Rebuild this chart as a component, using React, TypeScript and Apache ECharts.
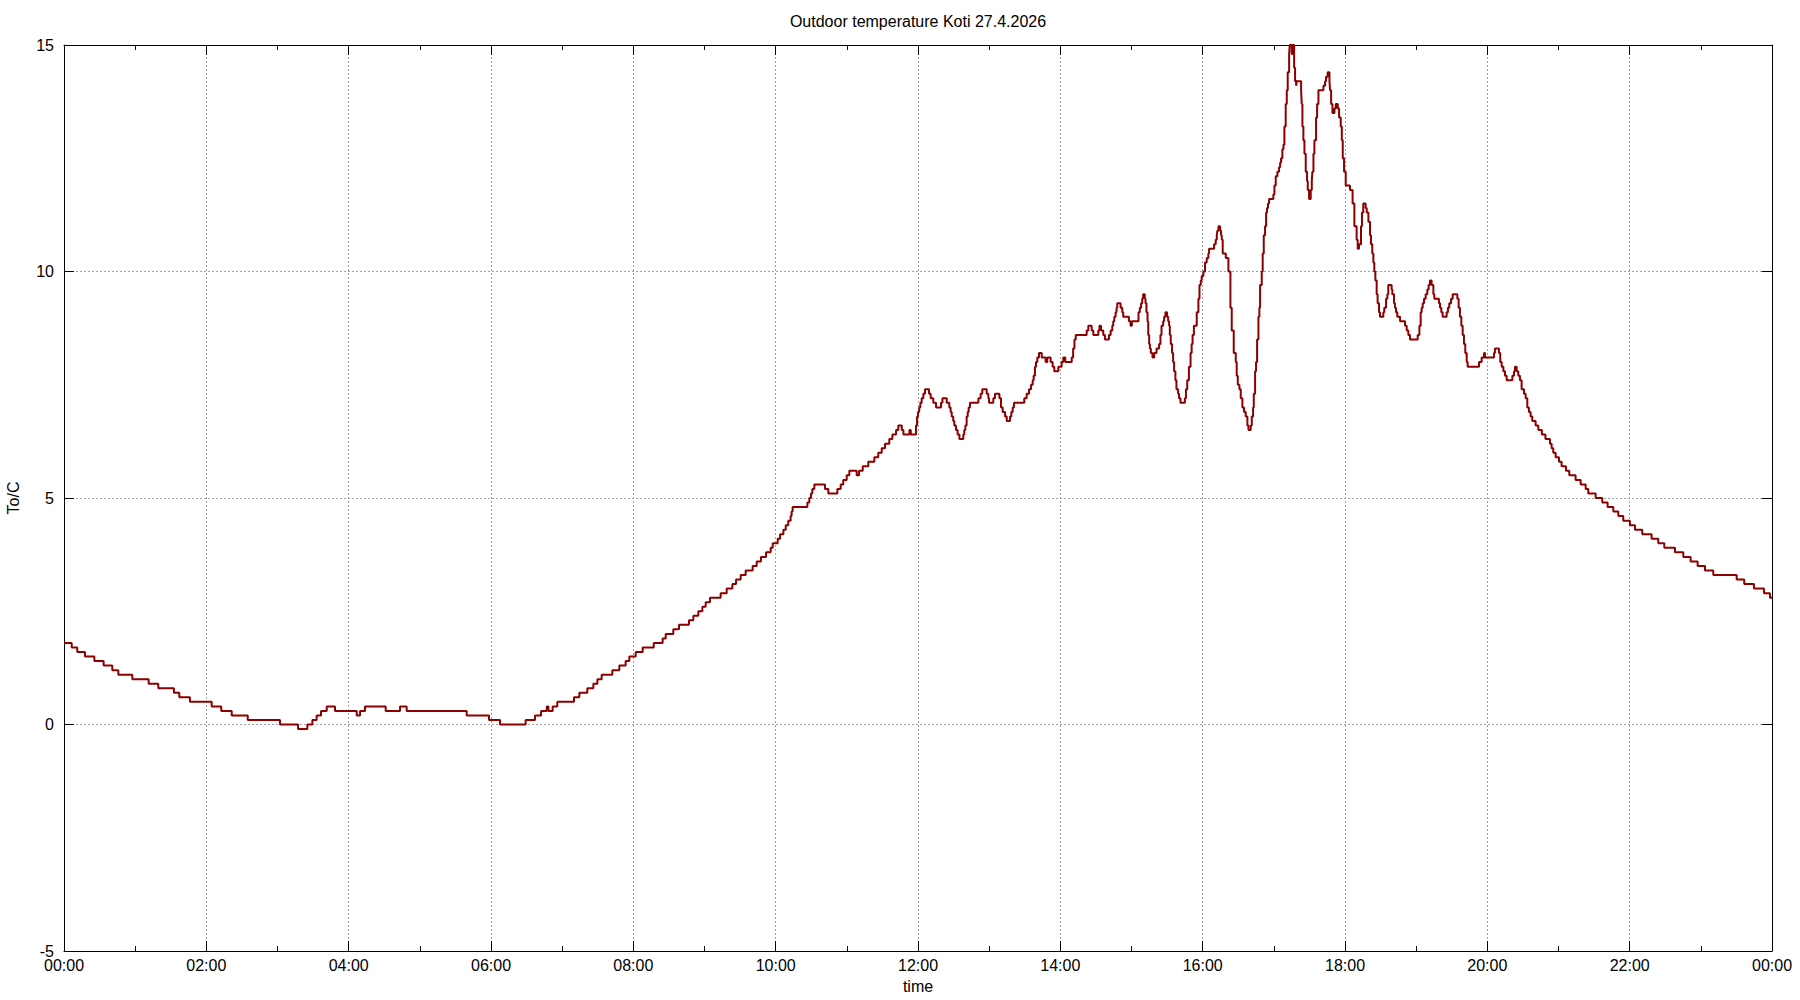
import React, { useEffect, useRef } from "react";
import * as echarts from "echarts";

const TITLE = "Outdoor temperature Koti 27.4.2026";
const X_NAME = "time";
const Y_NAME = "To/C";
const xTickLabels = ["00:00", "02:00", "04:00", "06:00", "08:00", "10:00", "12:00", "14:00", "16:00", "18:00", "20:00", "22:00", "00:00"];

// [minutes after midnight, temperature °C] at each change of reading
const night = [
  [0, 1.8], [6.5, 1.7], [11.2, 1.6], [17.7, 1.5], [25.6, 1.4], [33.4, 1.3], [40.7, 1.2], [45.8, 1.1], [57.6, 1.0],
  [71.4, 0.9], [79.5, 0.8], [92.7, 0.7], [97.2, 0.6], [106.2, 0.5], [124.5, 0.4], [132.6, 0.3], [141.4, 0.2],
  [154.9, 0.1], [182.1, 0.0], [197.3, -0.1], [205.2, 0.0], [209.4, 0.1], [213.0, 0.2], [216.7, 0.3], [221.5, 0.4],
  [228.5, 0.3], [246.8, 0.2], [249.6, 0.3], [253.8, 0.4], [271.2, 0.3], [283.3, 0.4], [288.9, 0.3], [339.5, 0.2],
  [358.3, 0.1], [367.6, 0.0],
];

const morning = [
  [389.2, 0.1], [397.1, 0.2], [402.2, 0.3], [407.0, 0.4], [408.4, 0.3], [412.0, 0.4], [415.9, 0.5], [430.0, 0.6],
  [434.5, 0.7], [441.2, 0.8], [446.3, 0.9], [449.7, 1.0], [453.3, 1.1], [462.3, 1.2], [468.2, 1.3], [473.5, 1.4],
  [476.6, 1.5], [482.0, 1.6], [487.9, 1.7], [497.2, 1.8], [504.7, 1.9], [507.3, 2.0], [513.7, 2.1], [518.5, 2.2],
  [526.9, 2.3], [530.6, 2.4], [534.8, 2.5], [538.2, 2.6], [541.0, 2.7], [544.6, 2.8], [553.6, 2.9], [558.7, 3.0],
  [563.5, 3.1], [566.6, 3.2], [570.5, 3.3], [574.7, 3.4], [580.6, 3.5], [584.0, 3.6], [587.6, 3.7], [591.9, 3.8],
  [595.8, 3.9], [597.5, 4.0], [601.7, 4.1], [603.7, 4.2], [606.5, 4.3], [608.5, 4.4], [610.6, 4.5], [612.6, 4.6],
  [613.4, 4.7], [614.3, 4.8], [626.7, 4.9], [628.4, 5.0], [629.8, 5.1], [630.9, 5.2], [632.6, 5.3], [641.6, 5.2],
  [644.4, 5.1], [652.0, 5.2], [654.8, 5.3], [657.0, 5.4], [659.9, 5.5], [662.1, 5.6], [668.3, 5.5], [670.3, 5.6],
  [673.4, 5.7], [678.1, 5.8], [683.2, 5.9], [686.5, 6.0], [689.4, 6.1], [692.2, 6.2], [695.8, 6.3], [698.4, 6.4],
  [701.5, 6.5], [703.4, 6.6], [706.3, 6.5], [707.7, 6.4], [712.8, 6.5], [713.9, 6.4],
];

const midday = [
  [718.3, 6.6], [719.2, 6.8], [720.0, 6.9], [721.0, 7.0], [722.0, 7.1], [723.1, 7.2], [724.5, 7.3], [725.9, 7.4],
  [729.3, 7.3], [730.7, 7.2], [732.9, 7.1], [735.2, 7.0], [739.4, 7.1], [740.6, 7.2], [744.2, 7.1], [746.4, 7.0],
  [747.5, 6.9], [748.4, 6.8], [749.7, 6.7], [750.6, 6.6], [752.0, 6.5], [753.4, 6.4], [754.9, 6.3], [758.2, 6.4],
  [759.0, 6.5], [759.9, 6.6], [761.0, 6.8], [761.9, 6.9], [762.7, 7.0], [763.8, 7.1], [770.9, 7.2], [772.8, 7.3],
  [774.2, 7.4], [777.9, 7.3], [779.3, 7.2], [779.9, 7.1], [783.5, 7.2], [784.9, 7.3], [788.6, 7.2], [790.0, 7.0],
  [791.4, 6.9], [793.4, 6.8], [794.8, 6.7], [797.6, 6.8], [798.7, 6.9], [799.8, 7.0], [800.9, 7.1], [809.6, 7.2],
  [811.6, 7.3], [813.6, 7.4], [815.3, 7.5], [816.7, 7.6], [817.5, 7.7], [818.6, 7.9], [819.5, 8.0], [820.6, 8.1],
  [822.0, 8.2], [824.3, 8.1], [827.6, 8.0], [829.0, 8.1], [831.8, 8.0], [833.5, 7.9], [834.9, 7.8], [838.3, 7.9],
  [841.1, 8.0], [842.5, 8.1], [844.2, 8.0], [849.6, 8.1], [850.8, 8.3], [851.9, 8.5], [853.0, 8.6], [862.2, 8.7],
  [863.6, 8.8], [866.4, 8.7], [867.8, 8.6], [872.0, 8.7], [873.0, 8.8], [874.3, 8.7], [876.2, 8.6], [877.6, 8.5],
  [881.0, 8.6], [882.4, 8.7], [883.8, 8.8], [884.6, 8.9], [885.5, 9.0], [886.6, 9.1], [887.4, 9.2], [888.0, 9.3],
  [890.8, 9.2], [892.2, 9.1], [893.0, 9.0], [897.8, 8.9], [899.2, 8.8], [900.3, 8.9], [905.9, 9.1], [907.0, 9.2],
  [908.1, 9.3], [909.0, 9.4], [909.8, 9.5], [911.2, 9.4], [911.8, 9.3], [912.6, 9.1], [913.5, 8.9], [914.1, 8.6],
  [914.9, 8.4], [915.5, 8.3], [916.3, 8.2], [917.7, 8.1], [919.1, 8.2], [921.1, 8.3], [923.3, 8.4], [924.4, 8.6],
  [925.3, 8.8], [926.7, 8.9], [927.5, 9.0], [928.6, 9.1], [930.0, 9.0], [930.9, 8.9], [931.7, 8.8], [932.3, 8.6],
  [933.1, 8.4], [934.2, 8.2], [935.1, 8.0], [935.9, 7.8], [937.0, 7.6], [937.9, 7.4], [939.3, 7.3], [940.1, 7.2],
  [941.3, 7.1], [945.0, 7.2], [945.9, 7.4], [947.0, 7.6], [948.4, 7.9], [949.8, 8.2], [950.7, 8.4], [951.5, 8.6],
  [952.6, 8.8],
];

const afternoon = [
  [955.0, 9.1], [956.4, 9.4], [957.3, 9.7], [958.4, 9.8], [959.2, 9.9], [960.6, 10.0], [962.0, 10.2], [963.4, 10.3],
  [964.8, 10.4], [965.4, 10.5], [969.6, 10.6], [971.0, 10.7], [971.9, 10.8], [972.4, 10.9], [973.3, 11.0], [974.7, 10.9],
  [975.5, 10.8], [976.1, 10.7], [976.9, 10.4], [979.5, 10.3], [981.7, 10.0], [983.4, 9.2], [984.5, 8.7], [986.2, 8.2],
  [987.9, 8.0], [988.7, 7.7], [989.6, 7.5], [991.0, 7.4], [992.1, 7.2], [993.5, 7.0], [994.9, 6.9], [996.3, 6.8],
  [997.7, 6.6], [998.6, 6.5], [1000.5, 6.6], [1001.4, 6.8], [1002.5, 7.0], [1003.1, 7.3], [1004.2, 7.8], [1005.0, 8.0],
  [1005.9, 8.5], [1007.0, 9.0], [1007.8, 9.2], [1008.4, 9.7], [1009.8, 10.0], [1010.6, 10.4], [1011.5, 10.8],
  [1012.6, 11.0], [1013.5, 11.3], [1014.3, 11.4], [1015.1, 11.5], [1016.0, 11.6], [1019.6, 11.7], [1020.5, 11.9],
  [1021.6, 12.1], [1023.0, 12.2], [1024.4, 12.3], [1025.3, 12.4], [1026.1, 12.5], [1027.2, 12.7], [1028.1, 12.8],
  [1028.9, 13.2], [1030.0, 13.7], [1030.9, 14.0], [1031.7, 14.4], [1032.9, 14.8], [1033.4, 15.0], [1035.1, 14.8],
  [1035.7, 15.0], [1037.1, 14.5], [1037.9, 14.2], [1038.8, 14.1], [1039.3, 14.2], [1043.0, 14.0], [1043.5, 13.7],
  [1044.1, 13.2], [1044.9, 12.9], [1045.8, 12.6], [1046.9, 12.2], [1048.0, 12.0], [1048.6, 11.8], [1049.7, 11.6],
  [1051.1, 11.8], [1052.0, 12.0], [1052.5, 12.2], [1053.4, 12.6], [1054.2, 12.9], [1055.6, 13.4], [1056.5, 13.7],
  [1057.6, 14.0], [1061.8, 14.1], [1063.2, 14.2], [1064.0, 14.3], [1065.4, 14.4], [1066.9, 14.2], [1067.4, 14.0],
  [1068.3, 13.7], [1069.4, 13.5], [1071.1, 13.6], [1072.2, 13.7], [1073.9, 13.6], [1075.0, 13.4], [1076.4, 13.2],
  [1077.3, 12.9], [1078.1, 12.5], [1079.2, 12.2], [1080.6, 11.9],
];

const evening = [
  [1084.2, 11.8], [1086.4, 11.5], [1087.9, 11.0], [1089.8, 10.7], [1090.7, 10.5], [1091.8, 10.6], [1093.5, 11.0],
  [1094.3, 11.3], [1095.4, 11.5], [1097.4, 11.4], [1098.3, 11.3], [1099.7, 11.1], [1101.1, 10.8], [1101.9, 10.6],
  [1103.0, 10.4], [1103.9, 10.2], [1104.7, 10.0], [1105.6, 9.8], [1106.7, 9.5], [1107.5, 9.3], [1108.7, 9.1],
  [1109.5, 9.0], [1112.3, 9.1], [1113.1, 9.2], [1114.6, 9.4], [1115.7, 9.5], [1116.5, 9.7], [1119.3, 9.6],
  [1119.9, 9.5], [1121.3, 9.3], [1122.1, 9.2], [1123.0, 9.1], [1124.1, 9.0], [1126.4, 8.9], [1130.6, 8.8],
  [1132.0, 8.7], [1133.4, 8.6], [1134.8, 8.5], [1141.3, 8.6], [1142.7, 8.8], [1143.8, 9.1], [1144.6, 9.2],
  [1145.5, 9.3], [1146.6, 9.4], [1148.0, 9.5], [1149.4, 9.6], [1150.5, 9.7], [1151.6, 9.8], [1153.0, 9.7],
  [1154.5, 9.5], [1155.3, 9.4], [1159.2, 9.3], [1160.1, 9.2], [1161.2, 9.1], [1162.3, 9.0], [1165.7, 9.1],
  [1166.8, 9.2], [1167.9, 9.3], [1169.4, 9.4], [1170.8, 9.5], [1174.7, 9.4], [1175.8, 9.2], [1176.9, 9.0],
  [1178.1, 8.8], [1179.2, 8.6], [1180.3, 8.4], [1181.4, 8.2], [1182.6, 8.0], [1183.4, 7.9], [1193.0, 8.0],
  [1195.2, 8.1], [1197.2, 8.2], [1198.0, 8.1], [1205.6, 8.2], [1206.4, 8.3], [1209.8, 8.2], [1210.9, 8.0],
  [1212.1, 7.9], [1213.5, 7.8], [1214.9, 7.7], [1216.3, 7.6], [1221.1, 7.7], [1222.5, 7.8], [1223.3, 7.9],
  [1224.7, 7.8], [1226.1, 7.7], [1227.5, 7.6], [1228.9, 7.4], [1230.9, 7.3], [1232.3, 7.2], [1233.7, 7.0],
  [1235.1, 6.9], [1236.5, 6.8], [1237.9, 6.7], [1240.7, 6.6], [1243.0, 6.5], [1246.0, 6.4], [1249.0, 6.3],
];

const lateEvening = [
  [1252.8, 6.2], [1254.2, 6.1], [1255.6, 6.0], [1257.6, 5.9], [1260.4, 5.8], [1262.6, 5.7], [1266.3, 5.6],
  [1269.1, 5.5], [1274.4, 5.4], [1278.7, 5.3], [1282.9, 5.2], [1285.1, 5.1], [1291.3, 5.0], [1296.9, 4.9],
  [1301.4, 4.8], [1306.2, 4.7], [1310.4, 4.6], [1314.6, 4.5], [1320.2, 4.4], [1324.5, 4.3], [1330.6, 4.2],
  [1338.5, 4.1], [1344.1, 4.0], [1349.2, 3.9], [1358.2, 3.8], [1365.2, 3.7], [1371.4, 3.6], [1377.3, 3.5],
  [1383.5, 3.4], [1390.5, 3.3], [1410.2, 3.2], [1416.6, 3.1], [1424.8, 3.0], [1433.2, 2.9], [1438.3, 2.8],
  [1440, 2.8],
];

export default function App() {
  const ref = useRef<HTMLDivElement>(null);

  useEffect(() => {
    document.body.style.margin = "0";
    const chart = echarts.init(ref.current!, null, { renderer: "svg" });
    const data = [...night, ...morning, ...midday, ...afternoon, ...evening, ...lateEvening];
    const font = "Liberation Sans";
    const black = "#000000";
    const gridLine = {
      show: true,
      showMinLine: false,
      showMaxLine: false,
      lineStyle: { color: "#a0a0a0", type: [2, 2], width: 1 },
    };
    const xBase = {
      type: "value",
      min: 0,
      max: 1440,
      interval: 120,
      axisLine: { show: true, onZero: false, lineStyle: { color: black, width: 1 } },
      axisTick: { show: true, inside: true, length: 10, lineStyle: { color: black, width: 1 } },
      minorTick: { show: true, splitNumber: 2, length: 5, lineStyle: { color: black, width: 1 } },
    };
    const yBase = {
      type: "value",
      min: -5,
      max: 15,
      interval: 5,
      axisLine: { show: true, onZero: false, lineStyle: { color: black, width: 1 } },
      axisTick: { show: true, inside: true, length: 10, lineStyle: { color: black, width: 1 } },
    };
    chart.setOption({
      animation: false,
      backgroundColor: "#ffffff",
      grid: { left: 64, top: 45, right: 28, bottom: 49, containLabel: false },
      xAxis: [
        {
          ...xBase,
          position: "bottom",
          axisLabel: {
            formatter: (v: number) => xTickLabels[Math.round(v / 120)],
            color: black,
            fontFamily: font,
            fontSize: 16,
            margin: 6,
          },
          splitLine: gridLine,
        },
        {
          ...xBase,
          position: "top",
          axisLabel: { show: false },
          splitLine: { show: false },
        },
      ],
      yAxis: [
        {
          ...yBase,
          position: "left",
          axisLabel: { color: black, fontFamily: font, fontSize: 16, margin: 10 },
          splitLine: gridLine,
        },
        {
          ...yBase,
          position: "right",
          axisLabel: { show: false },
          splitLine: { show: false },
        },
      ],
      graphic: [
        {
          type: "text",
          x: 918,
          y: 21,
          style: { text: TITLE, fill: black, font: `16px "${font}"`, textAlign: "center", textVerticalAlign: "middle" },
        },
        {
          type: "text",
          x: 918,
          y: 986,
          style: { text: X_NAME, fill: black, font: `16px "${font}"`, textAlign: "center", textVerticalAlign: "middle" },
        },
        {
          type: "text",
          x: 13,
          y: 498,
          rotation: Math.PI / 2,
          style: { text: Y_NAME, fill: black, font: `16px "${font}"`, textAlign: "center", textVerticalAlign: "middle" },
        },
      ],
      series: [
        {
          type: "line",
          data,
          step: "end",
          showSymbol: false,
          symbol: "none",
          xAxisIndex: 0,
          yAxisIndex: 0,
          lineStyle: { color: "#8b0000", width: 2 },
          z: 5,
        },
      ],
    });
    return () => chart.dispose();
  }, []);

  return <div ref={ref} style={{ width: 1800, height: 1000 }} />;
}
